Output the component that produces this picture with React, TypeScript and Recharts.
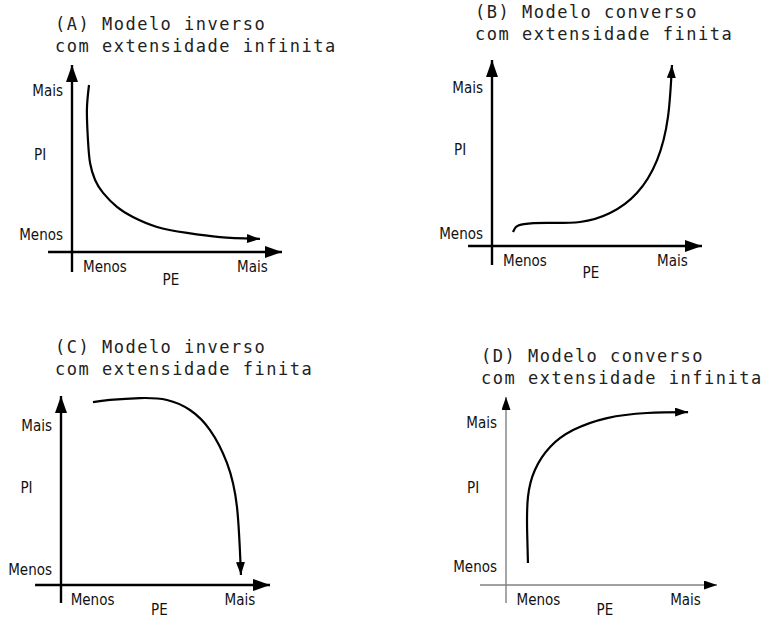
import { LineChart, Line, XAxis, YAxis, ReferenceLine, ReferenceDot } from 'recharts'

// tick labels shared by every panel
const TICK_LABELS = ['Menos', 'Mais']

// curves, in axis units (origin = 0, arrow tip = 100)
const curveA = [
  { pe: 8.1, pi: 89.3 },
  { pe: 7.1, pi: 75.9 },
  { pe: 7.6, pi: 59.9 },
  { pe: 8.6, pi: 47.6 },
  { pe: 11.0, pi: 38.5 },
  { pe: 14.8, pi: 31.6 },
  { pe: 21.4, pi: 24.1 },
  { pe: 29.0, pi: 18.7 },
  { pe: 40.5, pi: 13.4 },
  { pe: 54.8, pi: 10.2 },
  { pe: 70.5, pi: 8.0 },
  { pe: 89.5, pi: 7.0 },
]
const curveB = [
  { pe: 10.0, pi: 7.5 },
  { pe: 11.4, pi: 10.2 },
  { pe: 15.2, pi: 11.8 },
  { pe: 26.2, pi: 12.4 },
  { pe: 41.9, pi: 12.9 },
  { pe: 56.2, pi: 17.7 },
  { pe: 69.0, pi: 28.5 },
  { pe: 78.6, pi: 46.2 },
  { pe: 83.8, pi: 69.4 },
  { pe: 85.7, pi: 97.3 },
]
const curveC = [
  { pe: 15.3, pi: 96.8 },
  { pe: 23.4, pi: 97.9 },
  { pe: 37.8, pi: 98.9 },
  { pe: 50.7, pi: 97.9 },
  { pe: 61.7, pi: 92.6 },
  { pe: 71.3, pi: 82.0 },
  { pe: 79.4, pi: 64.6 },
  { pe: 84.2, pi: 41.3 },
  { pe: 86.1, pi: 5.3 },
]
const curveD = [
  { pe: 10.4, pi: 11.7 },
  { pe: 10.0, pi: 29.3 },
  { pe: 10.4, pi: 46.8 },
  { pe: 13.7, pi: 61.2 },
  { pe: 20.9, pi: 73.4 },
  { pe: 31.8, pi: 82.4 },
  { pe: 47.9, pi: 88.8 },
  { pe: 66.8, pi: 91.5 },
  { pe: 86.3, pi: 92.0 },
]

const xTicksA = [15.7, 85.9]
const yTicksA = [9.1, 86.1]
const xTicksB = [15.7, 85.9]
const yTicksB = [6.5, 84.9]
const xTicksC = [15.1, 85.6]
const yTicksC = [7.9, 84.1]
const xTicksD = [15.4, 85.1]
const yTicksD = [9.6, 86.2]

const titles = [
  ['(A) Modelo inverso', 'com extensidade infinita'],
  ['(B) Modelo converso', 'com extensidade finita'],
  ['(C) Modelo inverso', 'com extensidade finita'],
  ['(D) Modelo converso', 'com extensidade infinita'],
]

const LABEL_FONT = '"DejaVu Sans Condensed", "DejaVu Sans", sans-serif'
const TITLE_FONT = '"DejaVu Sans Mono", monospace'

type PanelProps = {
  id: string
  curve: { pe: number; pi: number }[]
  xTicks: number[]
  yTicks: number[]
  // page geometry of the axes: origin and arrow tips
  ox: number
  oy: number
  tipX: number
  tipY: number
  xStart: number // where the x axis starts left of the origin (axis units)
  yStart: number // where the y axis starts below the origin (axis units)
  thin?: boolean
  peAt: [number, number]
  piAt: [number, number]
  title: string[]
  titleLeft: number
  titleTop: number
}

function Panel(p: PanelProps) {
  const L = p.ox - 70
  const T = p.tipY - 20
  const W = p.tipX - L + 20
  const H = Math.min(p.oy - T + 45, 620 - T)
  const axisColor = p.thin ? '#808080' : '#000'
  const axisWidth = p.thin ? 1.4 : 2.4
  const tick = { fill: '#111', fontSize: 15, fontFamily: LABEL_FONT }
  return (
    <>
      <div
        style={{
          position: 'absolute',
          left: p.titleLeft,
          top: p.titleTop,
          fontFamily: TITLE_FONT,
          fontSize: 17,
          letterSpacing: 1.5,
          lineHeight: '22px',
          color: '#222',
          whiteSpace: 'pre',
        }}
      >
        {p.title[0]}
        <br />
        {p.title[1]}
      </div>
      <div style={{ position: 'absolute', left: L, top: T }}>
        <LineChart
          width={W}
          height={H}
          data={p.curve}
          margin={{ top: p.tipY - T, right: L + W - p.tipX, bottom: 0, left: 0 }}
          style={{ overflow: 'visible' }}
        >
          <defs>
            <marker
              id={`axis-${p.id}`}
              viewBox={p.thin ? '0 0 13 9' : '0 0 17 12'}
              refX={p.thin ? 13 : 17}
              refY={p.thin ? 4.5 : 6}
              markerWidth={p.thin ? 13 : 17}
              markerHeight={p.thin ? 9 : 12}
              markerUnits="userSpaceOnUse"
              orient="auto"
            >
              <path d={p.thin ? 'M0,0 L13,4.5 L0,9 z' : 'M0,0 L17,6 L0,12 z'} fill="#000" />
            </marker>
            <marker
              id={`curve-${p.id}`}
              viewBox="0 0 13 9"
              refX={13}
              refY={4.5}
              markerWidth={13}
              markerHeight={9}
              markerUnits="userSpaceOnUse"
              orient="auto"
            >
              <path d="M0,0 L13,4.5 L0,9 z" fill="#000" />
            </marker>
          </defs>
          <XAxis
            dataKey="pe"
            type="number"
            domain={[0, 100]}
            ticks={p.xTicks}
            tickFormatter={(_v: number, i: number) => TICK_LABELS[i]}
            tick={tick}
            axisLine={false}
            tickLine={false}
            tickMargin={3}
            height={H - (p.oy - T)}
            interval={0}
          />
          <YAxis
            dataKey="pi"
            type="number"
            domain={[0, 100]}
            ticks={p.yTicks}
            tickFormatter={(_v: number, i: number) => TICK_LABELS[i]}
            tick={tick}
            axisLine={false}
            tickLine={false}
            tickMargin={3}
            width={p.ox - L}
            interval={0}
          />
          <ReferenceLine
            segment={[{ x: p.xStart, y: 0 }, { x: 100, y: 0 }]}
            stroke={axisColor}
            strokeWidth={axisWidth}
            ifOverflow="visible"
            markerEnd={`url(#axis-${p.id})`}
          />
          <ReferenceLine
            segment={[{ x: 0, y: p.yStart }, { x: 0, y: 100 }]}
            stroke={axisColor}
            strokeWidth={axisWidth}
            ifOverflow="visible"
            markerEnd={`url(#axis-${p.id})`}
          />
          <ReferenceDot
            x={p.peAt[0]}
            y={p.peAt[1]}
            r={0}
            fill="none"
            stroke="none"
            ifOverflow="visible"
            label={{ value: 'PE', position: 'center', fill: '#111', fontSize: 15, fontFamily: LABEL_FONT }}
          />
          <ReferenceDot
            x={p.piAt[0]}
            y={p.piAt[1]}
            r={0}
            fill="none"
            stroke="none"
            ifOverflow="visible"
            label={{ value: 'PI', position: 'center', fill: '#111', fontSize: 15, fontFamily: LABEL_FONT }}
          />
          <Line
            type="natural"
            dataKey="pi"
            stroke="#000"
            strokeWidth={2.2}
            dot={false}
            activeDot={false}
            isAnimationActive={false}
            markerEnd={`url(#curve-${p.id})`}
          />
        </LineChart>
      </div>
    </>
  )
}

export default function App() {
  return (
    <div
      style={{
        position: 'absolute',
        left: 0,
        top: 0,
        width: 769,
        height: 620,
        background: '#fff',
        overflow: 'hidden',
      }}
    >
      <Panel
        id="a"
        curve={curveA}
        xTicks={xTicksA}
        yTicks={yTicksA}
        ox={72}
        oy={252}
        tipX={282}
        tipY={65}
        xStart={-11.4}
        yStart={-10.7}
        peAt={[47.1, -15]}
        piAt={[-15.2, 51.9]}
        title={titles[0]}
        titleLeft={55}
        titleTop={13}
      />
      <Panel
        id="b"
        curve={curveB}
        xTicks={xTicksB}
        yTicks={yTicksB}
        ox={492}
        oy={246}
        tipX={702}
        tipY={60}
        xStart={-11.4}
        yStart={-10.2}
        peAt={[47.1, -14.5]}
        piAt={[-15.2, 51.6]}
        title={titles[1]}
        titleLeft={475}
        titleTop={1}
      />
      <Panel
        id="c"
        curve={curveC}
        xTicks={xTicksC}
        yTicks={yTicksC}
        ox={61}
        oy={585}
        tipX={270}
        tipY={396}
        xStart={-12.4}
        yStart={-9.5}
        peAt={[47.1, -13.3]}
        piAt={[-16.5, 51.3]}
        title={titles[2]}
        titleLeft={55}
        titleTop={336}
      />
      <Panel
        id="d"
        curve={curveD}
        xTicks={xTicksD}
        yTicks={yTicksD}
        ox={506}
        oy={585}
        tipX={717}
        tipY={397}
        xStart={-12.3}
        yStart={-9.6}
        thin
        peAt={[46.9, -13.3]}
        piAt={[-15.6, 51.6]}
        title={titles[3]}
        titleLeft={481}
        titleTop={345}
      />
    </div>
  )
}
